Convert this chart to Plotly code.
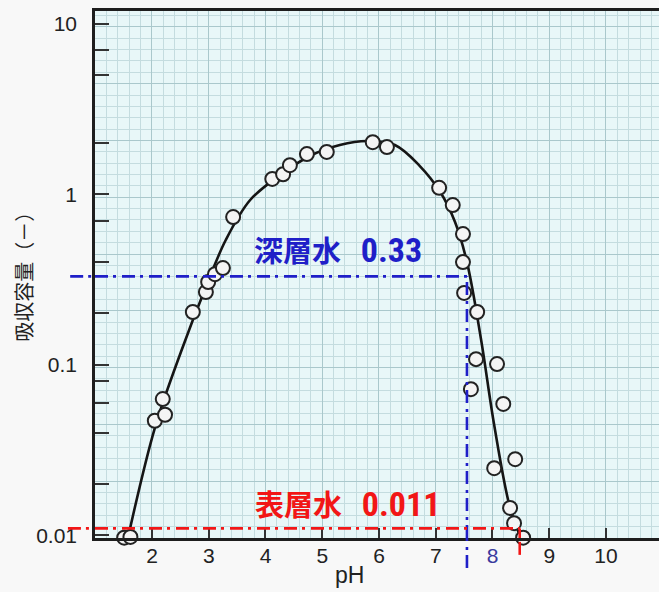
import math
import plotly.graph_objects as go

# Measured absorption capacity (-) against pH
ph_points = [1.51, 1.62, 2.05, 2.23, 2.19, 2.72, 2.95, 2.99, 3.11, 3.25,
             3.43, 4.12, 4.31, 4.43, 4.73, 5.08, 5.89, 6.14, 7.06, 7.30,
             7.48, 7.48, 7.50, 7.73, 7.71, 8.08, 7.62, 8.19, 8.40, 8.03,
             8.31, 8.38, 8.54]
cap_points = [0.0097, 0.0098, 0.047, 0.051, 0.063, 0.204, 0.267, 0.306, 0.340, 0.369,
              0.735, 1.23, 1.31, 1.48, 1.72, 1.77, 2.02, 1.89, 1.09, 0.864,
              0.584, 0.400, 0.264, 0.204, 0.108, 0.101, 0.072, 0.059, 0.028, 0.0248,
              0.0145, 0.0118, 0.0097]

# Fitted trend curve
ph_curve = [1.58, 2.05, 2.51, 2.95, 3.30, 3.73, 4.26, 4.78, 5.31, 5.79,
            6.28, 6.72, 7.08, 7.34, 7.55, 7.80, 8.03, 8.31, 8.50]
cap_curve = [0.0098, 0.0426, 0.119, 0.286, 0.539, 0.925, 1.296, 1.675, 1.943, 2.050,
             1.943, 1.463, 1.030, 0.687, 0.400, 0.140, 0.0444, 0.0145, 0.0097]

# Reference levels: deep-sea water and surface water
deep_label, deep_ph, deep_cap = "深層水", 7.55, 0.33
surf_label, surf_ph, surf_cap = "表層水", 8.48, 0.011

x_ticks = [2, 3, 4, 5, 6, 7, 8, 9, 10]
y_ticks = [0.01, 0.02, 0.04, 0.06, 0.08, 0.1, 0.2, 0.4, 0.7, 1, 2, 5, 7, 10]
y_labels = {0.01: "0.01", 0.1: "0.1", 1: "1", 10: "10"}

X_RANGE = [0.996, 10.934]
Y_RANGE = [-2.015, 1.074]
y_bottom = 10 ** Y_RANGE[0]

BLUE = "#1f1fc8"
RED = "#f21616"
INK = "#222222"
DASHDOT = "13px,5px,3px,6px"

fig = go.Figure()

# graph-paper grid carrier (uniform horizontal rulings)
fig.add_trace(go.Scatter(x=[None], y=[None], yaxis="y2", showlegend=False,
                         hoverinfo="skip"))

fig.add_trace(go.Scatter(
    x=ph_curve, y=cap_curve, mode="lines",
    line=dict(color="#151515", width=2.6, shape="spline", smoothing=1.0),
    hoverinfo="skip", showlegend=False))

fig.add_trace(go.Scatter(
    x=ph_points, y=cap_points, mode="markers", cliponaxis=False,
    marker=dict(symbol="circle", size=14, color="#f4f4f4",
                line=dict(color="#222222", width=2)),
    showlegend=False))


def guide(color, ph, cap, left_ext, below_ext):
    line = dict(color=color, width=2.6, dash=DASHDOT)
    return [
        dict(type="line", xref="x", yref="y", x0=X_RANGE[0], x1=ph,
             y0=cap, y1=cap, line=line, layer="above"),
        dict(type="line", xref="paper", yref="y", x0=left_ext, x1=0,
             y0=cap, y1=cap, line=line, layer="above"),
        dict(type="line", xref="x", yref="y", x0=ph, x1=ph,
             y0=y_bottom, y1=cap, line=line, layer="above"),
        dict(type="line", xref="x", yref="paper", x0=ph, x1=ph,
             y0=below_ext, y1=0, line=line, layer="above"),
    ]


shapes = guide(BLUE, deep_ph, deep_cap, -0.044, -0.057) + \
         guide(RED, surf_ph, surf_cap, -0.048, -0.032)

num_font = "font-family:'Liberation Sans Narrow','Roboto Condensed','Liberation Sans';font-size:34px"
gap = "\u00a0\u00a0\u00a0"

annotations = [
    dict(x=3.76, y=math.log10(deep_cap), xref="x", yref="y",
         xanchor="left", yanchor="bottom", yshift=4, showarrow=False,
         text=f"<b>{deep_label}{gap}<span style=\"{num_font}\">{deep_cap}</span></b>",
         font=dict(family="Noto Sans CJK JP", size=29, color=BLUE)),
    dict(x=3.78, y=math.log10(surf_cap), xref="x", yref="y",
         xanchor="left", yanchor="bottom", yshift=2, showarrow=False,
         text=f"<b>{surf_label}{gap}<span style=\"{num_font}\">{surf_cap}</span></b>",
         font=dict(family="Noto Sans CJK JP", size=29, color=RED)),
    dict(x=-0.126, y=0.505, xref="paper", yref="paper", textangle=-90,
         xanchor="center", yanchor="middle", showarrow=False,
         text="吸収容量（－）",
         font=dict(family="Noto Sans CJK JP", size=20, color=INK)),
    dict(x=0.452, y=-0.07, xref="paper", yref="paper", showarrow=False,
         xanchor="center", yanchor="middle",
         text="pH", font=dict(family="Liberation Sans", size=23, color=INK)),
]

x_text = ['<span style="color:#3a3a9e">8</span>' if v == 8 else str(v) for v in x_ticks]

fig.update_layout(
    width=659, height=592,
    margin=dict(l=95, r=0, t=11, b=54),
    paper_bgcolor="#f8f8f8",
    plot_bgcolor="#e8f7f8",
    showlegend=False,
    shapes=shapes,
    annotations=annotations,
    xaxis=dict(
        range=X_RANGE, tickmode="array", tickvals=x_ticks, ticktext=x_text,
        ticks="inside", ticklen=10, tickwidth=2, tickcolor="#333333",
        showline=True, linecolor="#1e1e1e", linewidth=2.5, mirror=True,
        showgrid=True, gridcolor="#aac8cc", gridwidth=1,
        minor=dict(dtick=0.2, tick0=0, showgrid=True, gridcolor="#c4dcdf", gridwidth=1),
        zeroline=False, ticklabelstandoff=-3,
        tickfont=dict(family="Liberation Sans", size=21, color=INK),
    ),
    yaxis=dict(
        type="log", range=Y_RANGE, tickmode="array", tickvals=y_ticks,
        ticktext=[y_labels.get(v, "") for v in y_ticks],
        ticks="inside", ticklen=14, tickwidth=2, tickcolor="#333333",
        showline=True, linecolor="#1e1e1e", linewidth=2.5, mirror=False,
        showgrid=False, zeroline=False, ticklabelstandoff=11,
        tickfont=dict(family="Liberation Sans", size=21, color=INK),
    ),
    yaxis2=dict(
        overlaying="y", range=[0, 46.4], dtick=5, tick0=0,
        showgrid=True, gridcolor="#aac8cc", gridwidth=1,
        minor=dict(dtick=1, showgrid=True, gridcolor="#c4dcdf", gridwidth=1),
        showticklabels=False, ticks="", showline=False, zeroline=False,
    ),
)

fig.write_html("out.html")
